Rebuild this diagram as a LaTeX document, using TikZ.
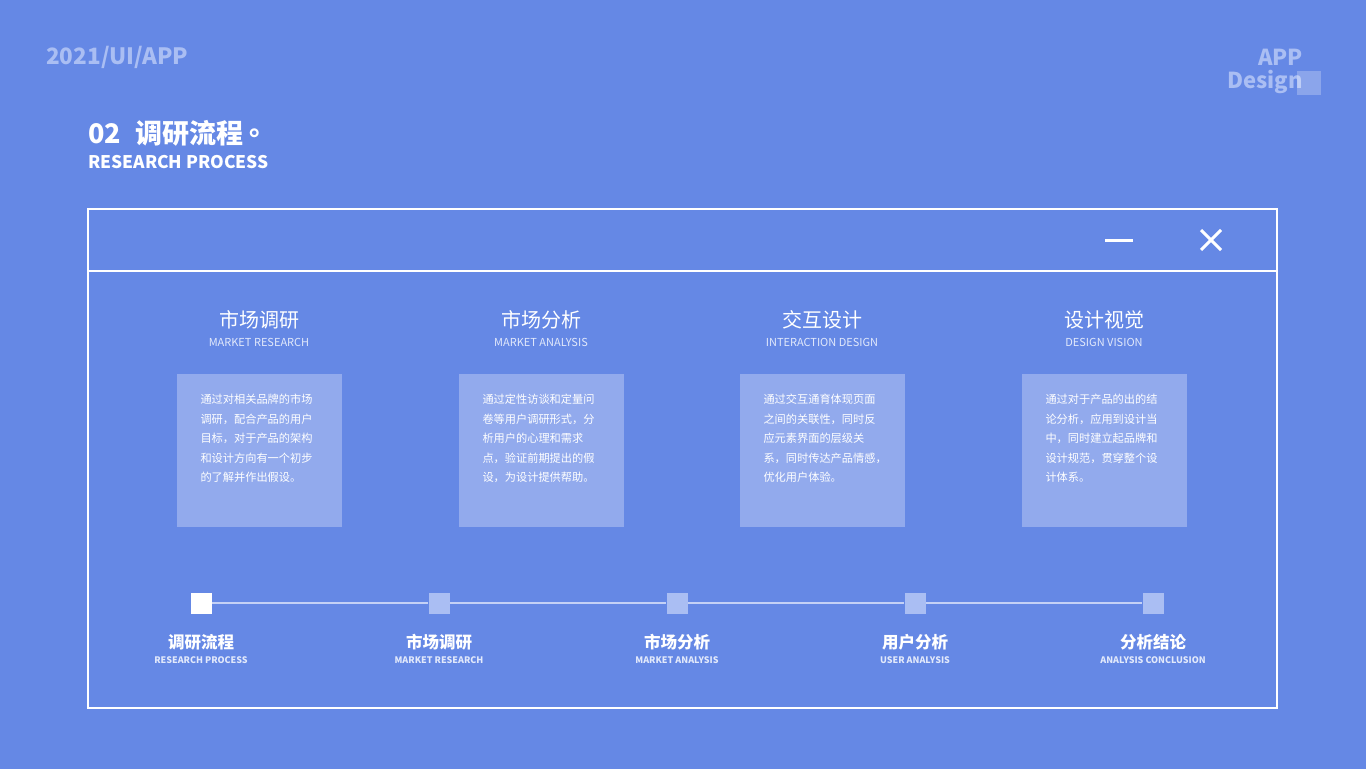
\documentclass[tikz,border=0pt]{standalone}
\usepackage{fontspec}
\setmainfont{Noto Sans CJK SC}
\usepackage{tikz}
\usetikzlibrary{positioning, calc}

\definecolor{bgblue}{RGB}{101,136,229}
\definecolor{cardblue}{RGB}{146,170,237}
\definecolor{paleblue}{RGB}{170,190,243}
\definecolor{subwhite}{RGB}{226,233,251}
\definecolor{railblue}{RGB}{196,209,246}

\tikzset{
  cardtitle/.style={inner sep=0pt, text=white, font=\fontsize{20}{24}\selectfont},
  cardsub/.style={inner sep=0pt, text=subwhite, font=\fontsize{11}{13}\selectfont},
  card/.style={fill=cardblue, minimum width=165pt, minimum height=153pt, inner sep=0pt, anchor=north},
  cardtext/.style={inner sep=0pt, anchor=north west, align=left, text=white, font=\fontsize{11.2}{19.5}\selectfont},
  stepmark/.style={fill=paleblue, minimum size=21pt, inner sep=0pt},
  steplabel/.style={inner sep=0pt, text=white, font=\fontsize{16.5}{18}\selectfont\bfseries},
  stepsub/.style={inner sep=0pt, text=subwhite, font=\fontsize{9}{10}\selectfont\bfseries}
}

\begin{document}
\begin{tikzpicture}[x=1pt,y=-1pt]
    \useasboundingbox (0,0) rectangle (1366,769);
    \fill[bgblue] (0,0) rectangle (1366,769);

    % header
    \node[inner sep=0pt, anchor=west, text=paleblue, font=\fontsize{22.5}{24}\selectfont\bfseries](year) at (46,57){2021/UI/APP};
    \node[inner sep=0pt, anchor=east, text=paleblue, font=\fontsize{22}{24}\selectfont\bfseries](app) at (1303,57){APP};
    \node[inner sep=0pt, anchor=east, text=paleblue, font=\fontsize{22}{24}\selectfont\bfseries](design) at (1303,82){Design};
    \fill[white, opacity=0.25] (1297,71) rectangle (1321,95);
    \node[inner sep=0pt, anchor=west, text=white, font=\fontsize{27}{29}\selectfont\bfseries](head) at (88,133){02\hspace{14pt}调研流程\hspace{6pt}\raisebox{8pt}{。}};
    \node[inner sep=0pt, anchor=west, text=white, font=\fontsize{17.4}{19}\selectfont\bfseries](headsub) at (88,162){RESEARCH PROCESS};

    % window
    \draw[white, line width=1.5pt] (88,209) rectangle (1277,708);
    \draw[white, line width=1.2pt] (88,271) -- (1277,271);
    \draw[white, line width=3pt] (1105,240) -- (1133,240);
    \draw[white, line width=3pt] (1201,230) -- (1221,250);
    \draw[white, line width=3pt] (1201,250) -- (1221,230);

    % cards
    \node[cardtitle](t1) at (259,320){市场调研};
    \node[cardsub](s1) at (259,342){MARKET RESEARCH};
    \node[card](c1) at (259,374){};
    \node[cardtext] at ([xshift=24pt,yshift=-20pt]c1.north west){通过对相关品牌的市场\\调研，配合产品的用户\\目标，对于产品的架构\\和设计方向有一个初步\\的了解并作出假设。};

    \node[cardtitle](t2) at (541,320){市场分析};
    \node[cardsub](s2) at (541,342){MARKET ANALYSIS};
    \node[card](c2) at (541,374){};
    \node[cardtext] at ([xshift=24pt,yshift=-20pt]c2.north west){通过定性访谈和定量问\\卷等用户调研形式，分\\析用户的心理和需求\\点，验证前期提出的假\\设，为设计提供帮助。};

    \node[cardtitle](t3) at (822,320){交互设计};
    \node[cardsub](s3) at (822,342){INTERACTION DESIGN};
    \node[card](c3) at (822,374){};
    \node[cardtext] at ([xshift=24pt,yshift=-20pt]c3.north west){通过交互通育体现页面\\之间的关联性，同时反\\应元素界面的层级关\\系，同时传达产品情感，\\优化用户体验。};

    \node[cardtitle](t4) at (1104,320){设计视觉};
    \node[cardsub](s4) at (1104,342){DESIGN VISION};
    \node[card](c4) at (1104,374){};
    \node[cardtext] at ([xshift=24pt,yshift=-20pt]c4.north west){通过对于产品的出的结\\论分析，应用到设计当\\中，同时建立起品牌和\\设计规范，贯穿整个设\\计体系。};

    % timeline
    \node[stepmark, fill=white](m1) at (201,603){};
    \node[stepmark](m2) at (439,603){};
    \node[stepmark](m3) at (677,603){};
    \node[stepmark](m4) at (915,603){};
    \node[stepmark](m5) at (1153,603){};
    \draw[railblue, line width=1.5pt] (m1.east) -- (m2.west) (m2.east) -- (m3.west) (m3.east) -- (m4.west) (m4.east) -- (m5.west);

    \node[steplabel](l1) at (201,642){调研流程};
    \node[stepsub](e1) at (201,660){RESEARCH PROCESS};
    \node[steplabel](l2) at (439,642){市场调研};
    \node[stepsub](e2) at (439,660){MARKET RESEARCH};
    \node[steplabel](l3) at (677,642){市场分析};
    \node[stepsub](e3) at (677,660){MARKET ANALYSIS};
    \node[steplabel](l4) at (915,642){用户分析};
    \node[stepsub](e4) at (915,660){USER ANALYSIS};
    \node[steplabel](l5) at (1153,642){分析结论};
    \node[stepsub](e5) at (1153,660){ANALYSIS CONCLUSION};
\end{tikzpicture}
\end{document}
